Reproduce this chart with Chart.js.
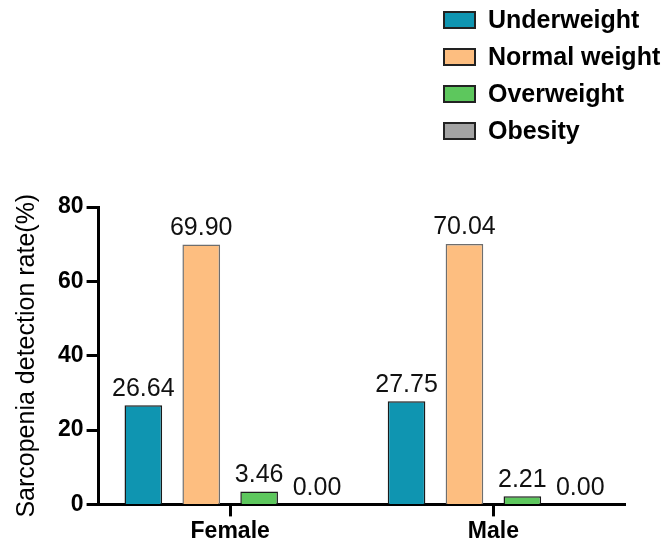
<!DOCTYPE html>
<html>
<head>
<meta charset="utf-8">
<script src="https://cdn.jsdelivr.net/npm/chart.js@4.4.1/dist/chart.umd.min.js"></script>
<style>
  html, body { margin: 0; padding: 0; background: #fff; }
  #wrap { width: 670px; height: 546px; }
</style>
</head>
<body>
<div id="wrap"><canvas id="rateChart" width="670" height="546"></canvas></div>
<script>
const groups = ["Female", "Male"];
const seriesNames = ["Underweight", "Normal weight", "Overweight", "Obesity"];
const underweight = [26.64, 27.75];
const normalWeight = [69.90, 70.04];
const overweight = [3.46, 2.21];
const obesity = [0.00, 0.00];
const yTicks = [0, 20, 40, 60, 80];

const fills = ["#0F95B1", "#FDBE80", "#5DC75D", "#A3A3A3"];
const edges = ["#1a1a1a", "#6e6e6e", "#1a1a1a", "#1a1a1a"];

// value labels above each bar
const barLabels = {
    id: "barLabels",
    afterDatasetsDraw(chart) {
        const c = chart.ctx;
        c.save();
        c.font = "25px 'Liberation Sans', Arial, sans-serif";
        c.fillStyle = "#111";
        c.textAlign = "center";
        c.textBaseline = "bottom";
        chart.data.datasets.forEach((ds, i) => {
            chart.getDatasetMeta(i).data.forEach((bar, j) => {
                c.fillText(ds.data[j].toFixed(2), bar.x, bar.y - 4);
            });
        });
        c.restore();
    }
};

// stacked legend in the top right corner
const sideLegend = {
    id: "sideLegend",
    afterDraw(chart) {
        const c = chart.ctx;
        c.save();
        c.font = "bold 25px 'Liberation Sans', Arial, sans-serif";
        c.textBaseline = "middle";
        chart.data.datasets.forEach((ds, i) => {
            const y = 20 + i * 37;
            c.fillStyle = ds.backgroundColor;
            c.fillRect(444, y - 8, 31, 16);
            c.lineWidth = 2;
            c.strokeStyle = "#222";
            c.strokeRect(444, y - 8, 31, 16);
            c.fillStyle = "#000";
            c.fillText(ds.label, 488, y + 1);
        });
        c.restore();
    }
};

const allSeries = [underweight, normalWeight, overweight, obesity];

new Chart(document.getElementById("rateChart"), {
    type: "bar",
    data: {
        labels: groups,
        datasets: seriesNames.map((name, i) => ({
            label: name,
            data: allSeries[i],
            backgroundColor: fills[i],
            borderColor: edges[i],
            borderWidth: 1.5,
            borderSkipped: "bottom",
            categoryPercentage: 0.88,
            barPercentage: 0.65
        }))
    },
    options: {
        responsive: false,
        animation: false,
        layout: { padding: { top: 207, right: 45, left: 12, bottom: 0 } },
        plugins: {
            legend: { display: false },
            tooltip: { enabled: false }
        },
        scales: {
            x: {
                offset: true,
                grid: {
                    offset: false,
                    drawOnChartArea: false,
                    drawTicks: true,
                    tickLength: 12,
                    tickWidth: 3,
                    tickColor: "#000"
                },
                border: { display: true, width: 3, color: "#000" },
                ticks: {
                    color: "#000",
                    padding: 1,
                    font: { family: "'Liberation Sans', Arial, sans-serif", size: 23, weight: "bold" }
                }
            },
            y: {
                min: 0,
                max: 80,
                afterBuildTicks: (axis) => { axis.ticks = yTicks.map(v => ({ value: v })); },
                grid: {
                    drawOnChartArea: false,
                    drawTicks: true,
                    tickLength: 12,
                    tickWidth: 3,
                    tickColor: "#000"
                },
                border: { display: true, width: 3, color: "#000" },
                ticks: {
                    color: "#000",
                    padding: 3,
                    font: { family: "'Liberation Sans', Arial, sans-serif", size: 23, weight: "bold" }
                },
                title: {
                    display: true,
                    text: "Sarcopenia detection rate(%)",
                    color: "#000",
                    padding: { top: 0, bottom: 13 },
                    font: { family: "'Liberation Sans', Arial, sans-serif", size: 25 }
                }
            }
        }
    },
    plugins: [barLabels, sideLegend]
});
</script>
</body>
</html>
